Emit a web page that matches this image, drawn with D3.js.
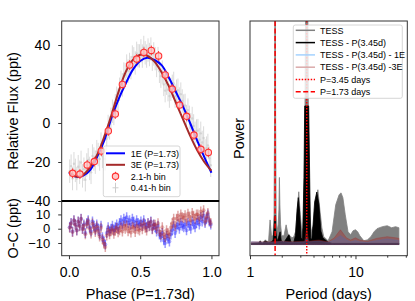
<!DOCTYPE html>
<html>
<head>
<meta charset="utf-8">
<script src="https://cdn.jsdelivr.net/npm/d3@7"></script>
<style>
body { margin: 0; background: #fff; }
text { font-family: "Liberation Sans", Arial, sans-serif; fill: #000; }
</style>
</head>
<body>
<script>
// phase-folded light curve, 0.41-h bins
var rawPhase = [0.005,0.015,0.025,0.035,0.045,0.055,0.065,0.075,0.085,0.095,
  0.105,0.115,0.125,0.135,0.145,0.155,0.165,0.175,0.185,0.195,
  0.205,0.215,0.225,0.235,0.245,0.255,0.265,0.275,0.285,0.295,
  0.305,0.315,0.325,0.335,0.345,0.355,0.365,0.375,0.385,0.395,
  0.405,0.415,0.425,0.435,0.445,0.455,0.465,0.475,0.485,0.495,
  0.505,0.515,0.525,0.535,0.545,0.555,0.565,0.575,0.585,0.595,
  0.605,0.615,0.625,0.635,0.645,0.655,0.665,0.675,0.685,0.695,
  0.705,0.715,0.725,0.735,0.745,0.755,0.765,0.775,0.785,0.795,
  0.805,0.815,0.825,0.835,0.845,0.855,0.865,0.875,0.885,0.895,
  0.905,0.915,0.925,0.935,0.945,0.955,0.965,0.975,0.985,0.995];
var rawFlux = [-24.7,-22.1,-28.5,-20.9,-24.3,-28.5,-22.4,-25.3,-20.2,-27.1,
  -23.7,-29.1,-21.5,-18.9,-23.3,-25.3,-16.9,-18.5,-20.1,-14.7,
  -16.2,-18.5,-10.8,-17.1,-18.4,-18.4,-8.1,-1.8,-2.5,1.9,
  6.0,4.9,8.8,12.7,11.6,17.3,20.9,19.5,25.1,24.7,
  29.2,26.6,30.0,28.4,33.8,32.9,30.8,35.7,34.5,34.4,
  37.0,34.3,38.7,36.0,34.3,37.4,35.1,37.9,32.7,35.4,
  33.0,29.5,33.0,26.5,24.0,26.1,19.8,16.6,20.4,17.1,
  13.8,17.3,18.8,20.3,13.8,16.3,16.8,12.3,14.8,11.3,
  8.7,9.0,3.3,6.6,2.9,-0.9,2.3,-1.5,-5.3,-4.1,
  -3.9,-8.6,-5.3,-10.0,-7.7,-14.3,-12.9,-11.5,-18.1,-21.7];
var resid1E = [1,4,-2,6,3,-1,5,2,7,0,
  3,-3,4,6,1,-2,5,2,-1,3,
  0,-4,2,-6,-9,-11,-3,1,-2,0,
  2,-1,1,3,0,4,6,3,7,5,
  8,4,6,3,7,5,2,6,4,3,
  5,2,6,3,1,4,2,5,0,3,
  1,-2,2,-4,-6,-3,-8,-10,-5,-7,
  -9,-4,-1,2,-3,1,3,0,4,2,
  1,3,-1,4,2,0,5,3,1,4,
  6,3,8,5,9,4,7,10,5,3];
var resid3E = [0.7,3.7,-2.3,5.7,2.7,-1.2,4.8,1.8,6.8,-0.2,
  2.1,-3.9,3.1,5.1,0.1,-3.3,3.7,0.7,-2.3,1.7,
  -1.4,-5.4,0.6,-7.4,-10.4,-12.8,-4.8,-0.8,-3.8,-1.8,
  -0.5,-3.5,-1.5,0.5,-2.5,-1,1,-2,2,0,
  2.3,-1.7,0.3,-2.7,1.3,0.7,-2.3,1.7,-0.3,-1.3,
  2.7,-0.3,3.7,0.7,-1.3,3.7,1.7,4.7,-0.3,2.7,
  2.8,-0.2,3.8,-2.2,-4.2,1,-4,-6,-1,-3,
  -4.1,0.9,3.9,6.9,1.9,7,9,6,10,8,
  7.5,9.5,5.5,10.5,8.5,6,11,9,7,10,
  10,7,12,9,13,5,8,11,6,4];
var rawErr = 6;
var residErr = 3.5;

// 2.1-h bins
var binPhase = [0.026,0.077,0.128,0.178,0.227,0.276,0.325,0.375,0.426,0.475,
  0.526,0.578,0.629,0.676,0.725,0.777,0.826,0.877,0.926,0.978];
var binFlux = [-25.8,-26.2,-21.5,-19.8,-14.4,-4.1,4.6,19.8,29.7,32.8,
  36.2,37.2,34.4,24.6,17.4,9.2,3.4,-6.2,-13.5,-15.1];
var binErr = 2.5;

// model curves
var modelPhase = [0,0.05,0.1,0.15,0.2,0.25,0.3,0.35,0.4,0.45,0.5,0.55,0.6,0.65,0.7,0.75,0.8,0.85,0.9,0.95,1];
var model1E = [-25.5,-27.5,-27,-24,-17,-8.5,3,12.5,20.5,27.5,31.8,33.5,32.3,29.7,23.5,16,8.5,0,-9,-17.5,-25.5];
var model3E = [-25,-27.5,-26.5,-22.5,-16,-6.5,4.5,16.5,26.5,32.5,35,34.5,31.5,26,19,10.5,2,-6.5,-14,-20,-24.5];

// periodograms
var tessPeriod = [1.03,1.2,1.25,1.3,1.35,1.4,1.45,1.5,1.55,1.6,1.65,1.69,1.71,1.72,1.74,1.75,1.77,1.8,1.85,1.88,
  1.9,1.92,1.95,2.0,2.1,2.2,2.3,2.4,2.5,2.6,2.7,2.8,2.9,3.0,3.1,3.2,3.3,3.38,3.52,3.6,
  3.7,3.8,4.0,4.2,4.4,4.6,4.8,5.0,5.5,6.0,6.5,7.0,7.3,7.6,8.0,8.5,9.0,9.5,10,10.5,
  11,12,13,14,15,16,18,20,22,24,25.8];
var tessPower = [0.006,0.008,0.017,0.006,0.013,0.021,0.013,0.017,0.11,0.039,0.039,0.133,0.56,1.2,1.2,0.56,0.133,0.057,0.088,0.155,
  0.30,0.178,0.088,0.039,0.039,0.088,0.044,0.039,0.030,0.035,0.057,0.147,0.236,0.133,0.057,0.075,0.42,1.2,1.2,0.42,
  0.133,0.057,0.088,0.178,0.245,0.155,0.075,0.035,0.017,0.057,0.178,0.223,0.231,0.209,0.133,0.057,0.044,0.062,0.066,0.057,
  0.039,0.017,0.021,0.035,0.057,0.071,0.080,0.084,0.075,0.080,0.075];
var subPeriod = [1.03,1.2,1.25,1.3,1.4,1.5,1.6,1.66,1.7,1.73,1.76,1.8,1.86,1.93,1.98,2.1,2.34,2.45,2.6,2.7,
  2.8,2.87,2.95,3.05,3.15,3.25,3.3,3.6,3.68,3.75,3.85,3.95,4.1,4.3,4.5,4.7,4.9,5.2,5.5,6,25.8];
var subPower = [0.005,0.006,0.013,0.005,0.015,0.008,0.012,0.02,0.09,0.13,0.06,0.012,0.03,0.057,0.015,0.01,0.044,0.01,0.01,0.04,
  0.16,0.21,0.15,0.03,0.02,0.3,0.62,0.62,0.3,0.03,0.02,0.08,0.19,0.235,0.18,0.06,0.03,0.02,0.01,0.005,0.005];
var resPeriod = [1.03,1.5,2,2.5,3.3,3.45,3.6,4.5,5.5,6.3,7.2,8.2,9,10,11,13,16,20,24,25.8];
var res1EPower = [0.012,0.01,0.013,0.01,0.012,0.03,0.012,0.015,0.01,0.02,0.04,0.02,0.012,0.018,0.012,0.01,0.018,0.025,0.02,0.018];
var res3EPower = [0.012,0.012,0.015,0.012,0.015,0.075,0.015,0.02,0.012,0.03,0.066,0.03,0.02,0.03,0.02,0.015,0.028,0.035,0.03,0.028];
var markPeriods = [3.45, 1.73];

var svg = d3.select("body")
            .append("svg")
            .attr("width", 415)
            .attr("height", 301);

var L = {x0: 61.7, x1: 219, top: 21, mid: 201, bot: 255.7};
var R = {x0: 250, x1: 407.3, top: 21, bot: 255.7};

var xPhase = d3.scaleLinear().domain([-0.051, 1.053]).range([L.x0, L.x1]);
var yFlux = d3.scaleLinear().domain([-40, 52.3]).range([L.mid, L.top]);
var yRes = d3.scaleLinear().domain([-18.9, 19.4]).range([L.bot, L.mid]);
var xPer = d3.scaleLog().domain([1, 31]).range([R.x0, R.x1]);
var yPow = d3.scaleLinear().domain([-0.05, 1.0]).range([R.bot, R.top]);

var defs = svg.append("defs");
defs.append("clipPath").attr("id", "clipTop").append("rect")
    .attr("x", L.x0).attr("y", L.top).attr("width", L.x1 - L.x0).attr("height", L.mid - L.top);
defs.append("clipPath").attr("id", "clipBot").append("rect")
    .attr("x", L.x0).attr("y", L.mid).attr("width", L.x1 - L.x0).attr("height", L.bot - L.mid);
defs.append("clipPath").attr("id", "clipRight").append("rect")
    .attr("x", R.x0).attr("y", R.top).attr("width", R.x1 - R.x0).attr("height", R.bot - R.top);

// ---------- top-left: light curve ----------
var gTop = svg.append("g").attr("clip-path", "url(#clipTop)");
var raw = d3.zip(rawPhase, rawFlux);

gTop.selectAll(".rawErr")
    .data(raw)
    .enter()
    .append("line")
    .attr("x1", function(d) {return xPhase(d[0])})
    .attr("x2", function(d) {return xPhase(d[0])})
    .attr("y1", function(d) {return yFlux(d[1] - rawErr)})
    .attr("y2", function(d) {return yFlux(d[1] + rawErr)})
    .attr("stroke", "#b8b8b8")
    .attr("stroke-opacity", 0.5)
    .attr("stroke-width", 1);

gTop.selectAll(".rawPt")
    .data(raw)
    .enter()
    .append("circle")
    .attr("cx", function(d) {return xPhase(d[0])})
    .attr("cy", function(d) {return yFlux(d[1])})
    .attr("r", 1.2)
    .attr("fill", "#c4c4c4")
    .attr("fill-opacity", 0.6);

var modelLine = function(vals) {
    return d3.line()
             .x(function(d, i) {return xPhase(modelPhase[i])})
             .y(function(d) {return yFlux(d)})
             .curve(d3.curveCatmullRom.alpha(0.5))(vals);
};
gTop.append("path").attr("d", modelLine(model1E))
    .attr("fill", "none").attr("stroke", "#0000ff").attr("stroke-width", 2);
gTop.append("path").attr("d", modelLine(model3E))
    .attr("fill", "none").attr("stroke", "#a52a2a").attr("stroke-width", 2);

var bins = d3.zip(binPhase, binFlux);
gTop.selectAll(".binErr")
    .data(bins)
    .enter()
    .append("line")
    .attr("x1", function(d) {return xPhase(d[0])})
    .attr("x2", function(d) {return xPhase(d[0])})
    .attr("y1", function(d) {return yFlux(d[1] - binErr)})
    .attr("y2", function(d) {return yFlux(d[1] + binErr)})
    .attr("stroke", "#ff3030")
    .attr("stroke-width", 1);
gTop.selectAll(".binPt")
    .data(bins)
    .enter()
    .append("circle")
    .attr("cx", function(d) {return xPhase(d[0])})
    .attr("cy", function(d) {return yFlux(d[1])})
    .attr("r", 3.2)
    .attr("fill", "#ffc8c8")
    .attr("fill-opacity", 0.8)
    .attr("stroke", "#ff3333")
    .attr("stroke-width", 1.1);

// ---------- bottom-left: O-C ----------
var gBot = svg.append("g").attr("clip-path", "url(#clipBot)");
function drawResid(vals, colour) {
    var pts = d3.zip(rawPhase, vals);
    gBot.append("g").selectAll("line")
        .data(pts)
        .enter()
        .append("line")
        .attr("x1", function(d) {return xPhase(d[0])})
        .attr("x2", function(d) {return xPhase(d[0])})
        .attr("y1", function(d) {return yRes(d[1] - residErr)})
        .attr("y2", function(d) {return yRes(d[1] + residErr)})
        .attr("stroke", colour)
        .attr("stroke-opacity", 0.4)
        .attr("stroke-width", 1.5);
    gBot.append("g").selectAll("circle")
        .data(pts)
        .enter()
        .append("circle")
        .attr("cx", function(d) {return xPhase(d[0])})
        .attr("cy", function(d) {return yRes(d[1])})
        .attr("r", 2)
        .attr("fill", colour)
        .attr("fill-opacity", 0.3);
}
drawResid(resid1E, "#0000ff");
drawResid(resid3E, "#b22222");

// ---------- right: periodogram ----------
var gR = svg.append("g").attr("clip-path", "url(#clipRight)");
function drawSpec(per, pow, fill, opacity) {
    var area = d3.area()
                 .x(function(d) {return xPer(d[0])})
                 .y0(yPow(0))
                 .y1(function(d) {return yPow(d[1])});
    gR.append("path")
      .attr("d", area(d3.zip(per, pow)))
      .attr("fill", fill)
      .attr("fill-opacity", opacity)
      .attr("stroke", fill)
      .attr("stroke-opacity", opacity)
      .attr("stroke-width", 0.8);
}
drawSpec(tessPeriod, tessPower, "#808080", 1);
drawSpec(subPeriod, subPower, "#000000", 1);
drawSpec(resPeriod, res1EPower, "#1e90ff", 0.4);
drawSpec(resPeriod, res3EPower, "#a52a2a", 0.4);

gR.selectAll(".vline")
  .data(markPeriods)
  .enter()
  .append("line")
  .attr("x1", function(d) {return xPer(d)})
  .attr("x2", function(d) {return xPer(d)})
  .attr("y1", R.top)
  .attr("y2", R.bot)
  .attr("stroke", "#ff0000")
  .attr("stroke-width", 1.5)
  .attr("stroke-dasharray", function(d, i) {return i == 0 ? "1.5,1.5" : "5,2.5"});

// ---------- frames ----------
svg.append("rect").attr("x", L.x0).attr("y", L.top).attr("width", L.x1 - L.x0).attr("height", L.mid - L.top)
   .attr("fill", "none").attr("stroke", "#333").attr("stroke-width", 1);
svg.append("rect").attr("x", L.x0).attr("y", L.mid).attr("width", L.x1 - L.x0).attr("height", L.bot - L.mid)
   .attr("fill", "none").attr("stroke", "#333").attr("stroke-width", 1);
svg.append("line").attr("x1", L.x0).attr("x2", L.x1).attr("y1", L.mid).attr("y2", L.mid)
   .attr("stroke", "#000").attr("stroke-width", 2.2);
svg.append("rect").attr("x", R.x0).attr("y", R.top).attr("width", R.x1 - R.x0).attr("height", R.bot - R.top)
   .attr("fill", "none").attr("stroke", "#333").attr("stroke-width", 1);

// ---------- axes ----------
function styleAxis(size) {
    return function(g) {
        g.select(".domain").remove();
        g.selectAll("text").attr("font-size", size).attr("font-family", "Liberation Sans, Arial, sans-serif");
        g.selectAll("line").attr("stroke", "#333");
    };
}
svg.append("g").attr("transform", "translate(" + L.x0 + ",0)")
   .call(d3.axisLeft(yFlux).tickValues([-40, -20, 0, 20, 40]).tickSize(3.5).tickPadding(8))
   .call(styleAxis("14px"));
svg.append("g").attr("transform", "translate(" + L.x0 + ",0)")
   .call(d3.axisLeft(yRes).tickValues([-10, 0, 10]).tickSize(3.5).tickPadding(8))
   .call(styleAxis("13px"));
svg.append("g").attr("transform", "translate(0," + L.bot + ")")
   .call(d3.axisBottom(xPhase).tickValues([0, 0.5, 1]).tickFormat(d3.format(".1f")).tickSize(3.5).tickPadding(7.5))
   .call(styleAxis("14px"));
svg.append("g").attr("transform", "translate(0," + R.bot + ")")
   .call(d3.axisBottom(xPer).tickValues([1, 10]).tickFormat(d3.format("d")).tickSize(3.5).tickPadding(7.5))
   .call(styleAxis("14px"));
svg.append("g").attr("transform", "translate(0," + R.bot + ")")
   .call(d3.axisBottom(xPer).tickValues([2, 3, 4, 5, 6, 7, 8, 9, 20, 30]).tickFormat("").tickSize(2))
   .call(styleAxis("14px"));

// ---------- axis titles ----------
svg.append("text").attr("x", (L.x0 + L.x1) / 2).attr("y", 299)
   .attr("text-anchor", "middle").attr("font-size", "14.5px").text("Phase (P=1.73d)");
svg.append("text").attr("x", (R.x0 + R.x1) / 2).attr("y", 299)
   .attr("text-anchor", "middle").attr("font-size", "14.5px").text("Period (days)");
svg.append("text").attr("transform", "translate(18," + (L.top + L.mid) / 2 + ") rotate(-90)")
   .attr("text-anchor", "middle").attr("font-size", "14.5px").text("Relative Flux (ppt)");
svg.append("text").attr("transform", "translate(18," + (L.mid + L.bot) / 2 + ") rotate(-90)")
   .attr("text-anchor", "middle").attr("font-size", "14.5px").text("O-C (ppt)");
svg.append("text").attr("transform", "translate(243.5," + (R.top + R.bot) / 2 + ") rotate(-90)")
   .attr("text-anchor", "middle").attr("font-size", "14.5px").text("Power");

// ---------- legends ----------
var leftLegend = [
    {text: "1E (P=1.73)", type: "line", colour: "#0000ff"},
    {text: "3E (P=1.73)", type: "line", colour: "#a52a2a"},
    {text: "2.1-h bin", type: "bin"},
    {text: "0.41-h bin", type: "raw"}
];
var lg = svg.append("g");
lg.append("rect").attr("x", 103.3).attr("y", 146).attr("width", 76.7).attr("height", 50.7)
  .attr("rx", 2).attr("fill", "#fff").attr("fill-opacity", 0.8).attr("stroke", "#cccccc").attr("stroke-width", 0.8);
var lgItem = lg.selectAll(".item")
  .data(leftLegend)
  .enter()
  .append("g")
  .attr("transform", function(d, i) {return "translate(0," + (153.3 + i * 11.5) + ")"});
lgItem.filter(function(d) {return d.type == "line"})
  .append("line").attr("x1", 106).attr("x2", 125).attr("y1", 0).attr("y2", 0)
  .attr("stroke", function(d) {return d.colour}).attr("stroke-width", 2);
var binItem = lgItem.filter(function(d) {return d.type == "bin"});
binItem.append("line").attr("x1", 115.5).attr("x2", 115.5).attr("y1", -4.5).attr("y2", 4.5)
  .attr("stroke", "#ff3030").attr("stroke-width", 1);
binItem.append("circle").attr("cx", 115.5).attr("cy", 0).attr("r", 3.2)
  .attr("fill", "#ffc8c8").attr("stroke", "#ff3333").attr("stroke-width", 1.1);
var rawItem = lgItem.filter(function(d) {return d.type == "raw"});
rawItem.append("line").attr("x1", 115.5).attr("x2", 115.5).attr("y1", -5).attr("y2", 5)
  .attr("stroke", "#cccccc").attr("stroke-width", 1);
rawItem.append("line").attr("x1", 112.5).attr("x2", 118.5).attr("y1", 0).attr("y2", 0)
  .attr("stroke", "#cccccc").attr("stroke-width", 1);
lgItem.append("text").attr("x", 130.7).attr("y", 3.2).attr("font-size", "9px")
  .text(function(d) {return d.text});

var rightLegend = [
    {text: "TESS", colour: "#808080", dash: null},
    {text: "TESS - P(3.45d)", colour: "#000000", dash: null},
    {text: "TESS - P(3.45d) - 1E", colour: "#a5d3ff", dash: null},
    {text: "TESS - P(3.45d) -3E", colour: "#dbaaaa", dash: null},
    {text: "P=3.45 days", colour: "#ff0000", dash: "1.5,1.5"},
    {text: "P=1.73 days", colour: "#ff0000", dash: "5,2.5"}
];
var rg = svg.append("g");
rg.append("rect").attr("x", 293.3).attr("y", 25).attr("width", 109).attr("height", 73.3)
  .attr("rx", 2).attr("fill", "#fff").attr("fill-opacity", 0.8).attr("stroke", "#cccccc").attr("stroke-width", 0.8);
var rgItem = rg.selectAll(".item")
  .data(rightLegend)
  .enter()
  .append("g")
  .attr("transform", function(d, i) {return "translate(0," + (30.3 + i * 12.3) + ")"});
rgItem.append("line").attr("x1", 295.7).attr("x2", 315).attr("y1", 0).attr("y2", 0)
  .attr("stroke", function(d) {return d.colour})
  .attr("stroke-width", 1.5)
  .attr("stroke-dasharray", function(d) {return d.dash});
rgItem.append("text").attr("x", 320).attr("y", 3.2).attr("font-size", "9px")
  .text(function(d) {return d.text});
</script>
</body>
</html>
